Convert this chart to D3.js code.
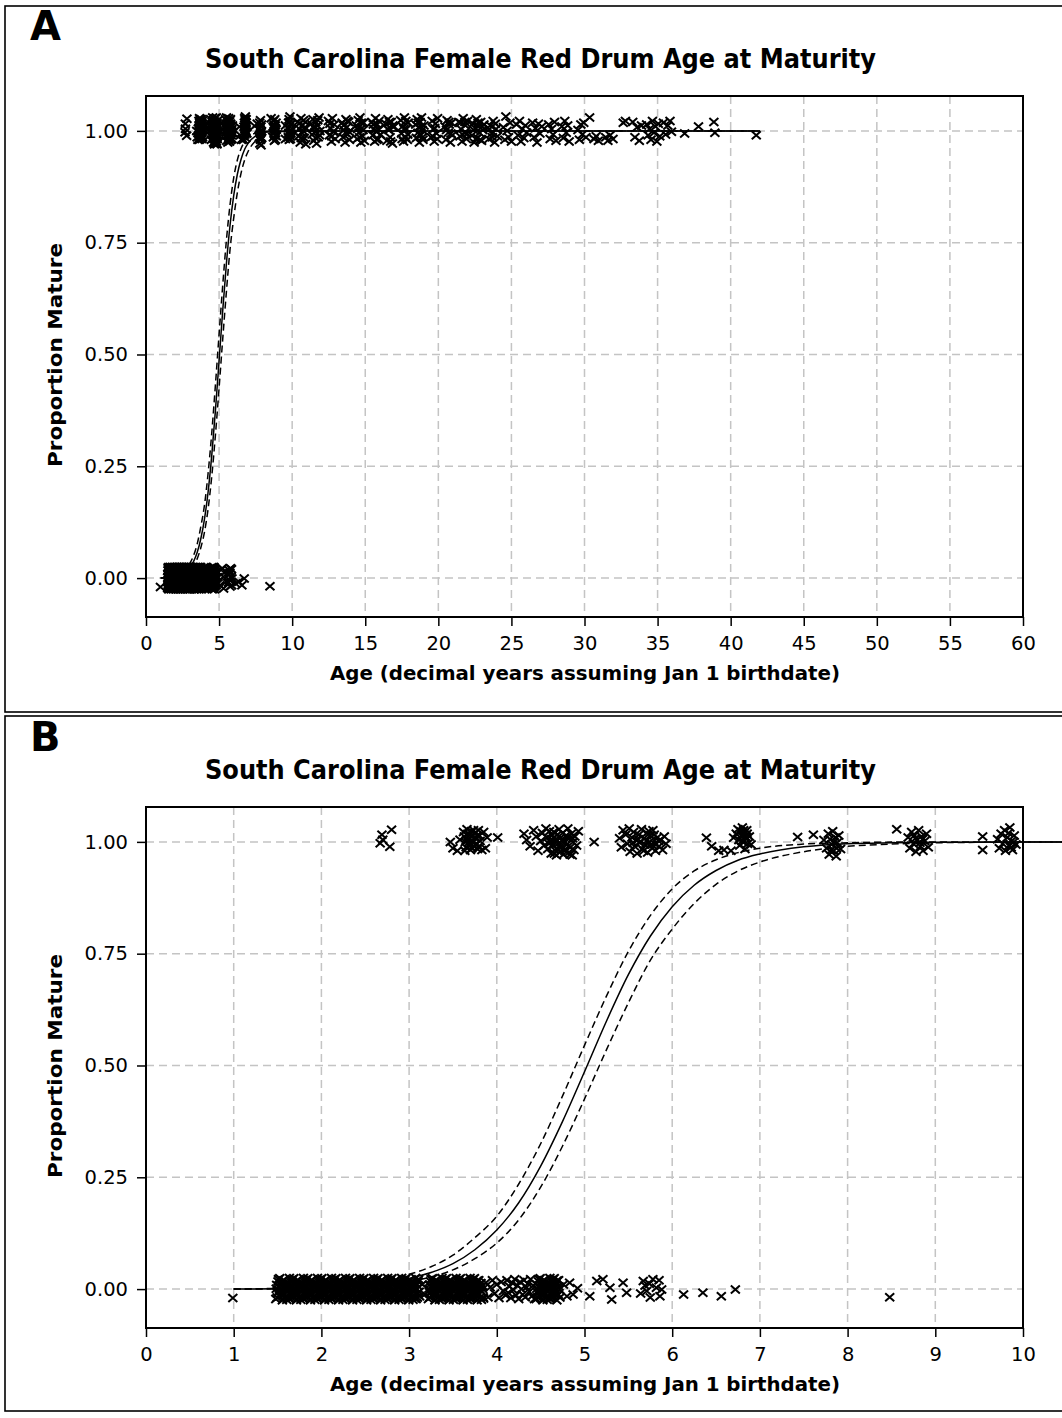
<!DOCTYPE html>
<html><head><meta charset="utf-8">
<script src="https://cdn.jsdelivr.net/npm/d3@7"></script>
<style>body{margin:0;background:#fff}svg{display:block}</style>
</head><body><svg id="c" width="1062" height="1418"></svg>
<script>
const xTicksA = [0,5,10,15,20,25,30,35,40,45,50,55,60];
const xTicksB = [0,1,2,3,4,5,6,7,8,9,10];
const yTicks = [0,0.25,0.5,0.75,1];
const yTickLabels = ["0.00","0.25","0.50","0.75","1.00"];
const titleText = "South Carolina Female Red Drum Age at Maturity";
const xTitle = "Age (decimal years assuming Jan 1 birthdate)";
const yTitle = "Proportion Mature";

// fitted logistic curve and 95% band
const curveAge   = [1,2,2.5,3,3.25,3.5,3.75,4,4.25,4.5,4.75,5,5.25,5.5,5.75,6,6.25,6.5,6.75,7,7.5,8,8.5,9,10,12,42];
const curveFit   = [0,0.003,0.010,0.024,0.037,0.057,0.088,0.132,0.193,0.275,0.375,0.486,0.599,0.703,0.789,0.855,0.903,0.936,0.959,0.973,0.989,0.996,0.998,0.999,1,1,1];
const curveUpper = [0,0.005,0.014,0.033,0.050,0.076,0.115,0.163,0.235,0.325,0.432,0.545,0.655,0.755,0.835,0.895,0.935,0.960,0.976,0.986,0.995,0.998,0.9995,1,1,1,1];
const curveLower = [0,0.002,0.006,0.017,0.027,0.043,0.068,0.103,0.155,0.228,0.320,0.425,0.535,0.640,0.735,0.805,0.862,0.905,0.935,0.955,0.978,0.990,0.995,0.998,0.9995,1,1];

// immature fish: [age, vertical jitter]
const immaturePts = [
[0.99,-.020],
[1.48,-.022],[1.49,.009],[1.50,-.009],[1.51,.022],[1.52,-.016],[1.53,.003],[1.54,-.003],[1.55,.016],
[1.56,.019],[1.57,-.012],[1.58,.006],[1.59,-.019],[1.60,.013],[1.61,-.006],[1.62,.000],[1.63,-.021],
[1.64,-.022],[1.65,.009],[1.66,-.009],[1.67,.022],[1.68,-.016],[1.69,.003],[1.70,-.003],[1.71,.016],
[1.72,.019],[1.73,-.012],[1.74,.006],[1.75,-.019],[1.76,.013],[1.77,-.006],[1.78,.000],[1.79,-.021],
[1.80,-.022],[1.81,.009],[1.82,-.009],[1.83,.022],[1.84,-.016],[1.85,.003],[1.86,-.003],[1.87,.016],
[1.88,.019],[1.89,-.012],[1.90,.006],[1.91,-.019],[1.92,.013],[1.93,-.006],[1.94,.000],[1.95,-.021],
[1.96,-.022],[1.97,.009],[1.98,-.009],[1.99,.022],[2.00,-.016],[2.01,.003],[2.02,-.003],[2.03,.016],
[2.04,.019],[2.05,-.012],[2.06,.006],[2.07,-.019],[2.08,.013],[2.09,-.006],[2.10,.000],[2.11,-.021],
[2.12,-.022],[2.13,.009],[2.14,-.009],[2.15,.022],[2.16,-.016],[2.17,.003],[2.18,-.003],[2.19,.016],
[2.20,.019],[2.21,-.012],[2.22,.006],[2.23,-.019],[2.24,.013],[2.25,-.006],[2.26,.000],[2.27,-.021],
[2.28,-.022],[2.29,.009],[2.30,-.009],[2.31,.022],[2.32,-.016],[2.33,.003],[2.34,-.003],[2.35,.016],
[2.36,.019],[2.37,-.012],[2.38,.006],[2.39,-.019],[2.40,.013],[2.41,-.006],[2.42,.000],[2.43,-.021],
[2.44,-.022],[2.45,.009],[2.46,-.009],[2.47,.022],[2.48,-.016],[2.49,.003],[2.50,-.003],[2.51,.016],
[2.52,.019],[2.53,-.012],[2.54,.006],[2.55,-.019],[2.56,.013],[2.57,-.006],[2.58,.000],[2.59,-.021],
[2.60,-.022],[2.61,.009],[2.62,-.009],[2.63,.022],[2.64,-.016],[2.65,.003],[2.66,-.003],[2.67,.016],
[2.68,.019],[2.69,-.012],[2.70,.006],[2.71,-.019],[2.72,.013],[2.73,-.006],[2.74,.000],[2.75,-.021],
[2.76,-.022],[2.77,.009],[2.78,-.009],[2.79,.022],[2.80,-.016],[2.81,.003],[2.82,-.003],[2.83,.016],
[2.84,.019],[2.85,-.012],[2.86,.006],[2.87,-.019],[2.88,.013],[2.89,-.006],[2.90,.000],[2.91,-.021],
[2.92,-.022],[2.93,.009],[2.94,-.009],[2.95,.022],[2.96,-.016],[2.97,.003],[2.98,-.003],[2.99,.016],
[3.00,.019],[3.01,-.012],[3.02,.006],[3.03,-.019],[3.04,.013],[3.05,-.006],[3.06,.000],[3.07,-.021],
[3.08,-.022],[3.09,.009],[3.10,-.009],[3.11,.022],[3.12,-.016],
[1.485,.001],[1.495,-.019],[1.505,.017],[1.515,-.006],[1.525,.024],[1.535,-.013],[1.545,.011],[1.555,-.025],
[1.565,-.014],[1.575,.020],[1.585,-.001],[1.595,.013],[1.605,-.024],[1.615,.007],[1.625,-.018],[1.635,.025],
[1.645,.001],[1.655,-.019],[1.665,.017],[1.675,-.006],[1.685,.024],[1.695,-.013],[1.705,.011],[1.715,-.025],
[1.725,-.014],[1.735,.020],[1.745,-.001],[1.755,.013],[1.765,-.024],[1.775,.007],[1.785,-.018],[1.795,.025],
[1.805,.001],[1.815,-.019],[1.825,.017],[1.835,-.006],[1.845,.024],[1.855,-.013],[1.865,.011],[1.875,-.025],
[1.885,-.014],[1.895,.020],[1.905,-.001],[1.915,.013],[1.925,-.024],[1.935,.007],[1.945,-.018],[1.955,.025],
[1.965,.001],[1.975,-.019],[1.985,.017],[1.995,-.006],[2.005,.024],[2.015,-.013],[2.025,.011],[2.035,-.025],
[2.045,-.014],[2.055,.020],[2.065,-.001],[2.075,.013],[2.085,-.024],[2.095,.007],[2.105,-.018],[2.115,.025],
[2.125,.001],[2.135,-.019],[2.145,.017],[2.155,-.006],[2.165,.024],[2.175,-.013],[2.185,.011],[2.195,-.025],
[2.205,-.014],[2.215,.020],[2.225,-.001],[2.235,.013],[2.245,-.024],[2.255,.007],[2.265,-.018],[2.275,.025],
[2.285,.001],[2.295,-.019],[2.305,.017],[2.315,-.006],[2.325,.024],[2.335,-.013],[2.345,.011],[2.355,-.025],
[2.365,-.014],[2.375,.020],[2.385,-.001],[2.395,.013],[2.405,-.024],[2.415,.007],[2.425,-.018],[2.435,.025],
[2.445,.001],[2.455,-.019],[2.465,.017],[2.475,-.006],[2.485,.024],[2.495,-.013],[2.505,.011],[2.515,-.025],
[2.525,-.014],[2.535,.020],[2.545,-.001],[2.555,.013],[2.565,-.024],[2.575,.007],[2.585,-.018],[2.595,.025],
[2.605,.001],[2.615,-.019],[2.625,.017],[2.635,-.006],[2.645,.024],[2.655,-.013],[2.665,.011],[2.675,-.025],
[2.685,-.014],[2.695,.020],[2.705,-.001],[2.715,.013],[2.725,-.024],[2.735,.007],[2.745,-.018],[2.755,.025],
[2.765,.001],[2.775,-.019],[2.785,.017],[2.795,-.006],[2.805,.024],[2.815,-.013],[2.825,.011],[2.835,-.025],
[2.845,-.014],[2.855,.020],[2.865,-.001],[2.875,.013],[2.885,-.024],[2.895,.007],[2.905,-.018],[2.915,.025],
[2.925,.001],[2.935,-.019],[2.945,.017],[2.955,-.006],[2.965,.024],[2.975,-.013],[2.985,.011],[2.995,-.025],
[3.005,-.014],[3.015,.020],[3.025,-.001],[3.035,.013],[3.045,-.024],[3.055,.007],[3.065,-.018],[3.075,.025],
[3.085,.001],[3.095,-.019],[3.105,.017],[3.115,-.006],
[3.15,.010],[3.18,-.012],
[3.22,-.022],[3.23,.009],[3.24,-.009],[3.25,.022],[3.26,-.016],[3.27,.003],[3.28,-.003],[3.29,.016],
[3.30,.019],[3.31,-.012],[3.32,.006],[3.33,-.019],[3.34,.013],[3.35,-.006],[3.36,.000],[3.37,-.021],
[3.38,-.022],[3.39,.009],[3.40,-.009],[3.41,.022],[3.42,-.016],[3.43,.003],[3.44,-.003],[3.45,.016],
[3.46,.019],[3.47,-.012],[3.48,.006],[3.49,-.019],[3.50,.013],[3.51,-.006],[3.52,.000],[3.53,-.021],
[3.54,-.022],[3.55,.009],[3.56,-.009],[3.57,.022],[3.58,-.016],[3.59,.003],[3.60,-.003],[3.61,.016],
[3.62,.019],[3.63,-.012],[3.64,.006],[3.65,-.019],[3.66,.013],[3.67,-.006],[3.68,.000],[3.69,-.021],
[3.70,-.022],[3.71,.009],[3.72,-.009],[3.73,.022],[3.74,-.016],[3.75,.003],[3.76,-.003],[3.77,.016],
[3.78,.019],[3.79,-.012],[3.80,.006],[3.81,-.019],[3.82,.013],[3.83,-.006],[3.84,.000],[3.85,-.021],
[3.225,.001],[3.235,-.019],[3.245,.017],[3.255,-.006],[3.265,.024],[3.275,-.013],[3.285,.011],[3.295,-.025],
[3.305,-.014],[3.315,.020],[3.325,-.001],[3.335,.013],[3.345,-.024],[3.355,.007],[3.365,-.018],[3.375,.025],
[3.385,.001],[3.395,-.019],[3.405,.017],[3.415,-.006],[3.425,.024],[3.435,-.013],[3.445,.011],[3.455,-.025],
[3.465,-.014],[3.475,.020],[3.485,-.001],[3.495,.013],[3.505,-.024],[3.515,.007],[3.525,-.018],[3.535,.025],
[3.545,.001],[3.555,-.019],[3.565,.017],[3.575,-.006],[3.585,.024],[3.595,-.013],[3.605,.011],[3.615,-.025],
[3.625,-.014],[3.635,.020],[3.645,-.001],[3.655,.013],[3.665,-.024],[3.675,.007],[3.685,-.018],[3.695,.025],
[3.705,.001],[3.715,-.019],[3.725,.017],[3.735,-.006],[3.745,.024],[3.755,-.013],[3.765,.011],[3.775,-.025],
[3.785,-.014],[3.795,.020],[3.805,-.001],[3.815,.013],[3.825,-.024],[3.835,.007],[3.845,-.018],
[3.875,.014],[3.90,-.018],[3.925,.004],[3.95,.020],[3.975,-.010],[4.00,.010],[4.025,-.020],[4.05,.016],[4.075,-.004],[4.10,-.014],
[4.115,.020],[4.13,-.008],[4.145,.006],[4.16,-.020],[4.175,.014],[4.19,-.002],[4.205,.022],[4.22,-.014],[4.235,.008],[4.25,-.022],[4.265,.016],
[4.28,.000],[4.295,-.012],[4.31,.020],[4.325,-.018],[4.34,.004],[4.355,.012],[4.37,-.006],[4.385,.022],[4.40,-.016],[4.415,.008],[4.43,-.022],
[4.45,-.022],[4.46,.009],[4.47,-.009],[4.48,.022],[4.49,-.016],[4.50,.003],[4.51,-.003],[4.52,.016],
[4.53,.019],[4.54,-.012],[4.55,.006],[4.56,-.019],[4.57,.013],[4.58,-.006],[4.59,.000],[4.60,-.021],
[4.61,-.022],[4.62,.009],[4.63,-.009],[4.64,.022],[4.65,-.016],[4.66,.003],[4.67,-.003],[4.68,.016],
[4.69,.019],[4.70,-.012],[4.71,.006],[4.72,-.019],
[4.455,.001],[4.465,-.019],[4.475,.017],[4.485,-.006],[4.495,.024],[4.505,-.013],[4.515,.011],[4.525,-.025],
[4.535,-.014],[4.545,.020],[4.555,-.001],[4.565,.013],[4.575,-.024],[4.585,.007],[4.595,-.018],[4.605,.025],
[4.615,.001],[4.625,-.019],[4.635,.017],[4.645,-.006],[4.655,.024],[4.665,-.013],[4.675,.011],[4.685,-.025],
[4.695,-.014],[4.705,.020],[4.715,-.001],
[4.76,.010],[4.80,-.016],[4.83,.014],[4.87,-.012],[4.92,.002],[5.06,-.016],[5.14,.018],[5.21,.022],
[5.29,.003],[5.31,-.023],[5.44,.014],[5.48,-.008],[5.64,-.010],[5.67,.018],[5.69,.008],[5.71,-.004],
[5.74,.012],[5.75,-.019],[5.78,.022],[5.82,.003],[5.85,.020],[5.86,-.016],[5.88,-.001],
[6.13,-.012],[6.35,-.008],[6.56,-.016],[6.72,-.001],[8.48,-.018]
];

// mature fish: [age, vertical jitter]
const maturePts = [
[2.67,-.003],[2.69,.016],[2.70,.005],[2.78,-.011],[2.80,.027],
[3.47,.000],[3.50,-.014],[3.55,-.020],[3.58,.005],[3.62,.022],[3.63,.012],[3.64,.000],[3.65,-.012],[3.66,.028],[3.67,.018],
[3.68,.006],[3.69,-.006],[3.70,-.018],[3.71,.024],[3.72,.012],[3.73,.000],[3.74,-.010],[3.75,.020],[3.76,.008],[3.77,-.004],
[3.78,-.016],[3.79,.026],[3.80,.014],[3.81,.002],[3.83,-.018],[3.85,.022],[3.87,-.014],[3.89,.010],[4.01,.010],
[3.635,-.020],[3.655,.004],[3.675,-.002],[3.695,.016],[3.715,-.014],[3.735,.026],[3.755,-.006],[3.775,.014],[3.795,-.010],
[4.31,.018],[4.34,.004],[4.38,-.010],[4.42,.026],[4.45,.012],[4.47,-.020],[4.50,.002],[4.52,.020],[4.54,-.008],[4.56,.030],
[4.57,.010],[4.58,-.016],[4.60,.024],[4.61,.000],[4.62,-.026],[4.63,.014],[4.64,-.008],[4.65,.022],[4.66,-.018],[4.67,.006],
[4.68,-.030],[4.69,.016],[4.70,-.004],[4.71,.028],[4.72,-.022],[4.73,.010],[4.74,-.012],[4.75,.020],[4.76,-.028],[4.77,.002],
[4.78,-.016],[4.79,.014],[4.80,-.006],[4.81,.030],[4.82,-.024],[4.83,.008],[4.84,-.012],[4.85,.018],[4.86,-.030],[4.87,.000],
[4.88,-.018],[4.89,.012],[4.91,-.008],[4.93,.024],[5.11,.000],
[4.595,-.004],[4.625,.006],[4.655,-.026],[4.685,.004],[4.715,-.012],[4.745,.002],[4.775,-.020],[4.805,.010],[4.835,-.028],[4.865,.008],
[5.40,.008],[5.42,-.012],[5.44,.026],[5.47,.016],[5.49,-.004],[5.51,.030],[5.52,-.022],[5.54,.010],[5.56,.022],[5.57,-.010],
[5.59,.004],[5.60,-.026],[5.62,.016],[5.63,-.002],[5.65,.028],[5.66,-.016],[5.68,.008],[5.69,-.006],[5.71,.020],[5.72,-.024],
[5.74,.000],[5.75,.014],[5.77,-.014],[5.78,.026],[5.80,-.004],[5.81,-.020],[5.83,.010],[5.85,-.010],[5.87,.004],[5.89,-.018],
[5.91,.012],[5.93,-.004],
[5.555,-.002],[5.615,.006],[5.675,-.020],[5.705,.002],[5.735,.024],[5.765,-.006],[5.795,.016],[5.845,.002],
[6.39,.009],[6.45,-.010],[6.53,-.020],[6.59,-.018],[6.67,-.020],[6.70,.009],[6.73,.018],[6.75,.028],[6.76,.004],[6.77,-.008],
[6.78,.024],[6.79,.014],[6.80,.032],[6.81,.000],[6.82,.020],[6.83,-.016],[6.84,.008],[6.85,.026],[6.86,-.004],[6.88,.012],[6.90,-.006],
[6.795,.002],[6.815,.026],[6.835,.012],[6.855,.018],
[7.43,.011],[7.61,.016],
[7.73,.004],[7.76,-.014],[7.78,.018],[7.79,-.028],[7.80,.006],[7.82,-.006],[7.83,.024],[7.84,-.020],[7.86,.010],[7.87,-.032],
[7.88,-.002],[7.90,.014],[7.92,-.016],[7.815,-.018],[7.845,.000],[7.875,-.014],
[8.56,.028],
[8.69,.010],[8.71,-.014],[8.73,.022],[8.75,-.004],[8.76,.014],[8.78,-.022],[8.79,.004],[8.81,.026],[8.83,-.010],[8.84,.012],
[8.86,-.020],[8.88,.002],[8.90,.018],[8.92,-.012],[8.775,.008],[8.825,-.002],[8.855,.006],
[9.54,.012],[9.54,-.018],
[9.71,.006],[9.73,-.014],[9.75,.018],[9.77,-.004],[9.79,.026],[9.80,-.020],[9.82,.010],[9.84,-.008],[9.85,.032],[9.87,.002],
[9.88,-.018],[9.90,.014],[9.92,-.006],[9.835,.020],[9.865,-.012],[9.895,.000],
[10.38,.020],[10.44,-.012],[10.50,.004],[10.55,-.026],[10.60,.028],[10.64,-.004],[10.69,.012],[10.73,-.020],[10.78,.024],[10.83,-.016],[10.88,.008],[10.93,-.030],
[10.47,.016],[10.62,-.016],[10.76,.000],[10.90,.020],
[11.30,.016],[11.36,-.008],[11.42,.026],[11.47,-.022],[11.52,.006],[11.57,-.002],[11.62,.020],[11.67,-.028],[11.72,.012],[11.78,-.014],[11.84,.030],[11.90,.000],
[11.45,.008],[11.60,-.016],[11.75,.024],[11.87,-.010],
[12.48,.022],[12.55,-.010],[12.62,.006],[12.68,-.024],[12.75,.028],[12.82,-.002],[12.88,.014],[12.94,-.018],
[12.58,.016],[12.71,-.012],[12.85,.000],
[13.42,.018],[13.48,-.014],[13.55,.002],[13.62,-.026],[13.68,.026],[13.74,.008],[13.80,-.008],[13.86,.020],[13.92,-.020],
[13.52,.012],[13.65,-.004],[13.78,.022],[13.89,-.002],
[14.38,.012],[14.45,-.018],[14.52,.024],[14.58,-.004],[14.64,.030],[14.70,-.026],[14.76,.006],[14.82,-.012],[14.88,.018],[14.94,-.022],
[14.48,.004],[14.61,-.014],[14.73,.018],[14.85,.002],
[15.45,.020],[15.52,-.010],[15.58,.004],[15.64,-.024],[15.70,.028],[15.76,-.002],[15.82,.014],[15.88,-.018],[15.94,.022],[16.05,-.008],
[15.55,.014],[15.67,.002],[15.79,-.020],[15.91,.004],
[16.40,.016],[16.48,-.022],[16.55,.026],[16.62,.002],[16.70,-.014],[16.78,.020],[16.86,-.028],[16.93,.008],
[16.52,.004],[16.66,.020],[16.74,-.024],[16.89,.012],
[17.42,.024],[17.48,-.006],[17.55,.010],[17.62,-.024],[17.68,.030],[17.75,-.014],[17.82,.004],[17.88,-.020],[17.94,.018],
[17.52,-.018],[17.65,.004],[17.78,.022],[17.91,-.008],
[18.45,.014],[18.50,-.016],[18.55,.026],[18.60,-.004],[18.65,.008],[18.70,-.026],[18.75,.020],[18.80,-.010],[18.85,.030],[18.90,.002],[18.95,-.020],[19.02,.012],
[18.62,.018],[18.72,-.008],[18.82,.010],[18.92,-.014],
[19.50,-.014],[19.58,.022],[19.65,.004],[19.72,-.024],[19.80,.016],[19.88,-.006],[19.95,.028],
[19.62,-.012],[19.76,.006],[19.92,-.018],
[20.45,.010],[20.52,-.020],[20.60,.024],[20.68,-.004],[20.75,.014],[20.82,-.026],[20.90,.018],[20.96,-.010],
[20.56,.002],[20.72,.020],[20.86,-.006],
[21.40,.020],[21.48,-.012],[21.55,.004],[21.62,-.024],[21.70,.028],[21.78,-.004],[21.85,.012],[21.92,-.018],[22.00,.022],
[21.52,.018],[21.66,-.008],[21.82,.020],[21.96,-.006],
[22.30,-.010],[22.38,.016],[22.45,-.026],[22.52,.006],[22.60,.026],[22.68,-.016],[22.75,.010],[22.82,-.004],[22.90,.020],[22.96,-.022],[23.05,.002],[23.12,.014],
[22.42,.002],[22.56,-.018],[22.72,.018],[22.86,-.020],[23.00,.010],
[23.45,-.018],[23.55,.012],[23.65,-.006],[23.75,.022],[23.85,-.026],[23.95,.004],[24.05,-.012],
[23.50,.004],[23.70,-.014],[23.90,.016],
[24.45,.008],[24.55,-.020],[24.62,.032],[24.70,.000],[24.80,-.014],[24.90,.018],[25.00,-.024],
[25.35,.014],[25.45,-.010],[25.55,.022],[25.65,-.024],[25.75,.004],[25.85,-.016],[25.95,.012],[26.05,-.004],
[26.45,.018],[26.55,-.014],[26.65,.006],[26.75,-.026],[26.85,.016],[26.95,-.006],[27.08,.010],
[27.55,.014],[27.65,-.018],[27.75,.004],[27.85,-.008],[27.95,.020],[28.05,-.022],
[28.45,.010],[28.55,-.016],[28.65,.022],[28.75,-.004],[28.85,.012],[28.95,-.024],
[29.55,.002],[29.65,-.020],[29.75,.014],[29.85,-.008],[29.95,.018],[30.10,-.014],[30.35,.030],
[30.65,-.018],[30.80,-.012],[30.95,-.022],
[31.45,-.014],[31.60,-.022],[31.75,-.010],[31.95,-.018],
[32.65,.018],[32.80,.022],
[33.30,.020],[33.45,-.014],[33.60,.008],[33.75,-.022],[33.90,.012],
[34.25,.014],[34.35,-.010],[34.45,.004],[34.55,-.020],[34.65,.022],[34.75,-.004],[34.85,.010],[34.95,-.024],[35.05,.016],[35.15,-.012],
[35.40,.018],[35.55,-.008],[35.70,.012],[35.85,.022],[35.95,-.002],
[36.85,-.006],[37.80,.010],[38.85,.020],[38.92,-.004],[41.75,-.010]
];

const FONT = "DejaVu Sans";
const svg = d3.select("#c");
const panels = [
  {key:"A", dy:0,   frameTop:6,   frameBottom:712,  xMax:60, ticks:xTicksA, clip:false},
  {key:"B", dy:711, frameTop:716, frameBottom:1411, xMax:10, ticks:xTicksB, clip:true}
];
const L = 146, R = 1023;

panels.forEach(p => {
  const top = 96 + p.dy, bottom = 617 + p.dy;
  const g = svg.append("g");
  g.append("rect").attr("x",5).attr("y",p.frameTop).attr("width",1200)
    .attr("height",p.frameBottom - p.frameTop).attr("fill","none")
    .attr("stroke","#000").attr("stroke-width",1.6);

  g.append("text").attr("x",30).attr("y",40 + p.dy).text(p.key)
    .attr("font-family",FONT).attr("font-weight","bold").attr("font-size",40);

  g.append("text").attr("x",540.5).attr("y",68 + p.dy).attr("text-anchor","middle")
    .attr("font-family",FONT).attr("font-weight","bold").attr("font-size",27)
    .attr("textLength",671).attr("lengthAdjust","spacingAndGlyphs").text(titleText);

  const x = d3.scaleLinear().domain([0,p.xMax]).range([L,R]);
  const y = d3.scaleLinear().domain([-0.087,1.078]).range([bottom,top]);

  // grid
  const grid = g.append("g").attr("stroke","#c4c4c4").attr("stroke-width",1.5).attr("stroke-dasharray","8,5");
  p.ticks.filter(t => t > 0 && t < p.xMax).forEach(t => {
    grid.append("line").attr("x1",x(t)).attr("x2",x(t)).attr("y1",top).attr("y2",bottom);
  });
  yTicks.forEach(t => {
    grid.append("line").attr("x1",L).attr("x2",R).attr("y1",y(t)).attr("y2",y(t));
  });

  // points
  if (p.clip) {
    svg.append("clipPath").attr("id","clip"+p.key).append("rect")
      .attr("x",L).attr("y",top).attr("width",R-L).attr("height",bottom-top);
  }
  const pts = g.append("g").attr("stroke","#000").attr("stroke-width",2).attr("fill","none");
  if (p.clip) pts.attr("clip-path","url(#clip"+p.key+")");
  const marker = "M-4.5,-4L4.5,4M-4.5,4L4.5,-4";
  pts.selectAll("path.imm").data(immaturePts).join("path").attr("class","imm")
    .attr("d",marker).attr("transform",d => `translate(${x(d[0])},${y(0 + d[1])})`);
  pts.selectAll("path.mat").data(maturePts).join("path").attr("class","mat")
    .attr("d",marker).attr("transform",d => `translate(${x(d[0])},${y(1 + d[1])})`);

  // curves
  const mk = arr => d3.line().x((d,i) => x(curveAge[i])).y((d,i) => y(arr[i])).curve(d3.curveMonotoneX)(arr);
  g.append("path").attr("d",mk(curveFit)).attr("fill","none").attr("stroke","#000").attr("stroke-width",1.5);
  g.append("path").attr("d",mk(curveUpper)).attr("fill","none").attr("stroke","#000").attr("stroke-width",1.5).attr("stroke-dasharray","7,4");
  g.append("path").attr("d",mk(curveLower)).attr("fill","none").attr("stroke","#000").attr("stroke-width",1.5).attr("stroke-dasharray","7,4");

  // axes
  const xa = g.append("g").attr("transform",`translate(0,${bottom})`)
    .call(d3.axisBottom(x).tickValues(p.ticks).tickFormat(d3.format("d")).tickSize(9).tickPadding(10));
  const ya = g.append("g").attr("transform",`translate(${L},0)`)
    .call(d3.axisLeft(y).tickValues(yTicks).tickFormat((d,i) => yTickLabels[i]).tickSize(9).tickPadding(9));
  [xa,ya].forEach(a => {
    a.select(".domain").remove();
    a.selectAll(".tick line").attr("stroke","#000").attr("stroke-width",1.5);
    a.selectAll(".tick text").attr("font-family",FONT).attr("font-size",19.5).attr("fill","#000");
  });

  g.append("rect").attr("x",L).attr("y",top).attr("width",R-L).attr("height",bottom-top)
    .attr("fill","none").attr("stroke","#000").attr("stroke-width",2);

  g.append("text").attr("x",585).attr("y",680 + p.dy).attr("text-anchor","middle")
    .attr("font-family",FONT).attr("font-weight","bold").attr("font-size",20)
    .attr("textLength",510).attr("lengthAdjust","spacingAndGlyphs").text(xTitle);

  g.append("text").attr("transform",`translate(62,${355 + p.dy}) rotate(-90)`).attr("text-anchor","middle")
    .attr("font-family",FONT).attr("font-weight","bold").attr("font-size",20)
    .attr("textLength",224).attr("lengthAdjust","spacingAndGlyphs").text(yTitle);
});
</script></body></html>
